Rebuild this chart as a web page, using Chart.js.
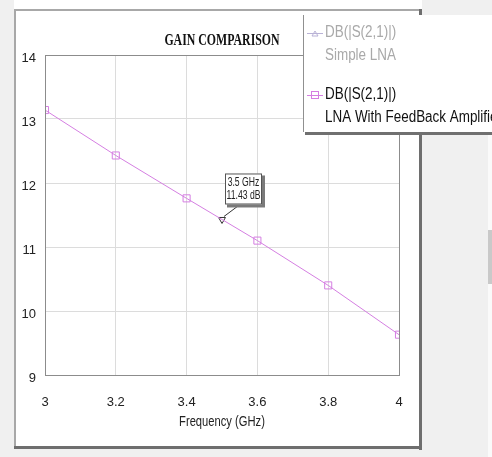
<!DOCTYPE html>
<html>
<head>
<meta charset="utf-8">
<script src="https://cdn.jsdelivr.net/npm/chart.js@4"></script>
<style>
  html, body { margin: 0; padding: 0; background: #f0f0f0; }
  #wrap { width: 492px; height: 457px; position: relative; }
</style>
</head>
<body>
<div id="wrap"><canvas id="gainChart" width="492" height="457"></canvas></div>
<script>
// data
const freq = [3.0, 3.2, 3.4, 3.6, 3.8, 4.0];
const gainFeedback = [13.14, 12.43, 11.76, 11.10, 10.40, 9.63];
const markerFreq = [3.5];
const markerGain = [11.43];
const seriesNames = ["DB(|S(2,1)|)", "DB(|S(2,1)|)"];
const seriesNotes = ["Simple LNA", "LNA With FeedBack Amplifier"];
const xTicks = [3, 3.2, 3.4, 3.6, 3.8, 4];
const yTicks = [9, 10, 11, 12, 13, 14];

const lineColor = "#d57fe2";
const sans = "'Liberation Sans', Arial, sans-serif";

// text squeezed sideways, like the narrow font of the original
function narrowText(c, txt, x, y, font, color, align, sx) {
    c.save();
    c.translate(x, y);
    c.scale(sx, 1);
    c.font = font;
    c.fillStyle = color;
    c.textAlign = align;
    c.textBaseline = "middle";
    c.fillText(txt, 0, 0);
    c.restore();
}

const frame = {
    id: "frame",
    beforeDraw(chart) {
        const c = chart.ctx;
        c.save();
        c.fillStyle = "#f0f0f0";
        c.fillRect(0, 0, 492, 457);
        c.fillStyle = "#ffffff";
        c.fillRect(14, 0, 408, 9);
        // main panel
        c.fillStyle = "#ffffff";
        c.fillRect(14, 9, 408, 439);
        c.fillStyle = "#a8a8a8";
        c.fillRect(14, 9, 408, 2);
        c.fillRect(14, 9, 2, 439);
        c.fillStyle = "#6e6e6e";
        c.fillRect(419, 9, 3, 441);
        c.fillRect(14, 446, 408, 3);
        // scroll bar on the right
        c.fillStyle = "#fafafa";
        c.fillRect(488, 15, 4, 442);
        c.fillStyle = "#c9c9c9";
        c.fillRect(488, 230, 4, 54);
        c.restore();
    },
    afterDatasetsDraw(chart) {
        const c = chart.ctx;
        const a = chart.chartArea;
        const mid = (a.left + a.right) / 2;
        c.save();
        c.strokeStyle = "#8c8c8c";
        c.lineWidth = 1;
        c.strokeRect(a.left + 0.5, a.top + 0.5, a.right - a.left, a.bottom - a.top);

        narrowText(c, "GAIN COMPARISON", mid, 41,
            "bold 16px 'Liberation Serif', 'Times New Roman', serif", "#111", "center", 0.74);
        narrowText(c, "Frequency (GHz)", mid, 422, "14px " + sans, "#222", "center", 0.8);

        // marker callout
        const px = chart.scales.x.getPixelForValue(markerFreq[0]);
        const py = chart.scales.y.getPixelForValue(markerGain[0]);
        const bx = px + 3, by = py - 46, bw = 37, bh = 31;
        c.strokeStyle = "#333";
        c.beginPath();
        c.moveTo(bx + 15, by + bh);
        c.lineTo(px + 2, py - 3);
        c.stroke();
        c.fillStyle = "#7a7a7a";
        c.fillRect(bx + 2, by + 2, bw + 1, bh + 1);
        c.fillStyle = "#ffffff";
        c.fillRect(bx, by, bw, bh);
        c.strokeStyle = "#555";
        c.strokeRect(bx + 0.5, by + 0.5, bw - 1, bh - 1);
        narrowText(c, markerFreq[0] + " GHz", bx + bw / 2, by + 9, "12px " + sans, "#222", "center", 0.72);
        narrowText(c, markerGain[0].toFixed(2) + " dB", bx + bw / 2, by + 22, "12px " + sans, "#222", "center", 0.72);

        // legend box
        c.fillStyle = "#707070";
        c.fillRect(305, 17, 190, 118);
        c.fillStyle = "#ffffff";
        c.fillRect(303, 15, 190, 117);
        c.fillStyle = "#909090";
        c.fillRect(303, 15, 1, 117);
        const rows = [33, 95];
        const colors = ["#b9b2d6", lineColor];
        const textCols = ["#a9a9a9", "#111111"];
        for (let i = 0; i < seriesNames.length; i++) {
            const y = rows[i];
            c.strokeStyle = colors[i];
            c.lineWidth = 1;
            c.beginPath();
            c.moveTo(307, y + 0.5);
            c.lineTo(323, y + 0.5);
            c.stroke();
            if (i === 0) {
                c.beginPath();
                c.moveTo(312, y + 3);
                c.lineTo(318, y + 3);
                c.lineTo(315, y - 2);
                c.closePath();
                c.stroke();
            } else {
                c.strokeRect(311.5, y - 3.5, 7, 7);
            }
            narrowText(c, seriesNames[i], 325, y, "16px " + sans, textCols[i], "left", 0.84);
            narrowText(c, seriesNotes[i], 325, y + 23, "16px " + sans, textCols[i], "left", 0.84);
        }
        c.restore();
    }
};

new Chart(document.getElementById("gainChart"), {
    type: "line",
    data: {
        datasets: [{
            label: seriesNotes[1],
            data: freq.map((f, i) => ({ x: f, y: gainFeedback[i] })),
            borderColor: lineColor,
            borderWidth: 1,
            pointStyle: "rect",
            pointRadius: 5,
            pointBorderColor: lineColor,
            pointBackgroundColor: "rgba(0,0,0,0)",
            tension: 0
        }, {
            label: "marker",
            data: markerFreq.map((f, i) => ({ x: f, y: markerGain[i] })),
            showLine: false,
            pointStyle: "triangle",
            rotation: 180,
            pointRadius: 4,
            pointBorderColor: "#333",
            pointBorderWidth: 1,
            pointBackgroundColor: "rgba(255,255,255,0)"
        }]
    },
    options: {
        responsive: false,
        animation: false,
        layout: { padding: { left: 0, top: 55, right: 93, bottom: 0 } },
        plugins: {
            legend: { display: false },
            tooltip: { enabled: false }
        },
        scales: {
            x: {
                type: "linear",
                min: 3, max: 4,
                afterBuildTicks(axis) { axis.ticks = xTicks.map(v => ({ value: v })); },
                afterFit(axis) { axis.height = 82; },
                grid: { color: "#dcdcdc", drawTicks: false },
                border: { display: false },
                ticks: {
                    padding: 20,
                    color: "#222",
                    font: { family: sans, size: 13 },
                    callback: v => String(v)
                }
            },
            y: {
                min: 9, max: 14,
                afterBuildTicks(axis) { axis.ticks = yTicks.map(v => ({ value: v })); },
                afterFit(axis) { axis.width = 45; },
                grid: { color: "#dcdcdc", drawTicks: false },
                border: { display: false },
                ticks: {
                    padding: 9,
                    labelOffset: 3,
                    color: "#222",
                    font: { family: sans, size: 13 }
                }
            }
        }
    },
    plugins: [frame]
});
</script>
</body>
</html>
